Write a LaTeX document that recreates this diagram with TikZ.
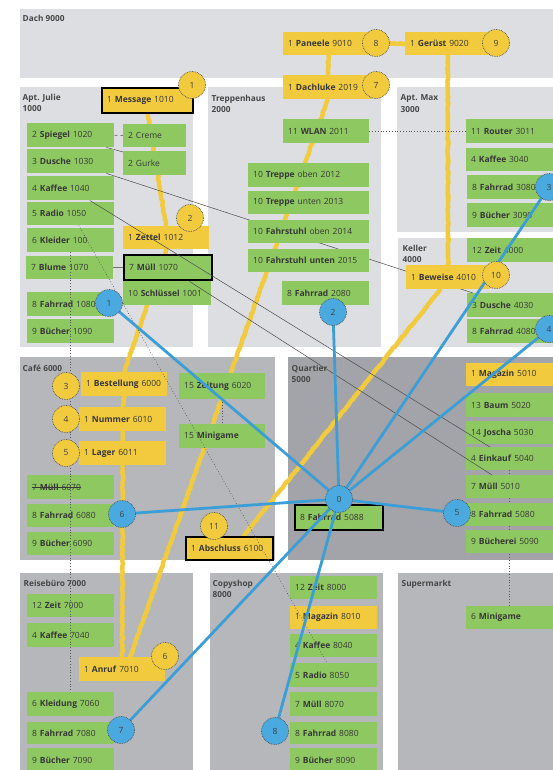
\documentclass[tikz,border=0pt]{standalone}
\usepackage{fontspec}
\setmainfont{Open Sans}
\usetikzlibrary{calc,decorations.pathmorphing}
\definecolor{regL}{HTML}{DDDEE1}
\definecolor{regM}{HTML}{B6B7BB}
\definecolor{regQ}{HTML}{A3A4A9}
\definecolor{grn}{HTML}{8EC860}
\definecolor{yel}{HTML}{F1CA3D}
\definecolor{blu}{HTML}{4AAADF}
\definecolor{bluL}{HTML}{3C9ED6}
\definecolor{txt}{HTML}{3A3A3A}
\pgfdeclarelayer{bg}\pgfdeclarelayer{lines}\pgfdeclarelayer{fg}\pgfdeclarelayer{top}
\pgfsetlayers{bg,lines,main,fg,top}
\newcommand\mybox[7]{%
  \pgfmathsetmacro\myBW{#4-#2-10}\pgfmathsetmacro\myBH{#5-#3}%
  \node[boxbase,#6,minimum height=\myBH pt,text width=\myBW pt,anchor=north west] (#1) at (#2,#3) {#7};}
\newcommand\myStrike[1]{\setbox0\hbox{#1}\rlap{\rule[0.3em]{\wd0}{0.6pt}}\box0}
\begin{document}
\pgfmathsetseed{7}
\begin{tikzpicture}[x=1pt,y=-1pt,
  boxbase/.style={inner xsep=5pt,inner ysep=0pt,align=left,text=black!78,font=\fontsize{8.5}{10}\selectfont},
  g/.style={fill=grn},
  yb/.style={fill=yel},
  thick box/.style={draw=black,line width=2.4pt},
  reglabel/.style={anchor=north west,inner sep=2pt,align=left,text=black!72,font=\fontsize{8.3}{11.5}\selectfont\bfseries},
  ycirc/.style={circle,fill=yel,draw=black!70,densely dotted,line width=0.7pt,minimum size=27pt,inner sep=0pt,text=black!75,font=\fontsize{8.5}{10}\selectfont},
  bcirc/.style={circle,fill=blu,draw=black!70,densely dotted,line width=0.7pt,minimum size=27pt,inner sep=0pt,text=black!75,font=\fontsize{8.5}{10}\selectfont},
  crayon/.style={draw=yel,line width=4.4pt,line cap=round,line join=round,decorate,decoration={random steps,segment length=1.5pt,amplitude=0.6pt}},
  blueline/.style={draw=bluL,line width=2.8pt},
  thinln/.style={draw=black!70,line width=0.5pt},
  dotln/.style={draw=black!65,line width=0.8pt,dotted},
]
\useasboundingbox (0,0) rectangle (553,770);
% ---------- regions ----------
\begin{pgfonlayer}{bg}
\fill[white] (0,0) rectangle (553,770);
\fill[regL] (20,9) rectangle (553,78);
\fill[regL] (20,87) rectangle (193,347);
\fill[regL] (208,87) rectangle (381,347);
\fill[regL] (397,87) rectangle (553,232);
\fill[regL] (398,238) rectangle (553,347);
\fill[regM] (20,357) rectangle (275,560);
\fill[regQ] (288,357) rectangle (553,560);
\fill[regM] (20,573) rectangle (193,770);
\fill[regM] (210,573) rectangle (383,770);
\fill[regM] (398,573) rectangle (553,770);
\end{pgfonlayer}
\node[reglabel] (lDach) at (20.5,12.5) {Dach 9000};
\node[reglabel] (lJul) at (20.5,91.5) {Apt. Julie\\1000};
\node[reglabel] (lTre) at (209.5,92.5) {Treppenhaus\\2000};
\node[reglabel] (lMax) at (398.5,92.5) {Apt. Max\\3000};
\node[reglabel] (lKel) at (400.5,242.5) {Keller\\4000};
\node[reglabel] (lCaf) at (20.5,362.5) {Café 6000};
\node[reglabel] (lQua) at (289.5,362.5) {Quartier\\5000};
\node[reglabel] (lRei) at (21.5,577.5) {Reisebüro 7000};
\node[reglabel] (lCop) at (210.5,577.5) {Copyshop\\8000};
\node[reglabel] (lSup) at (399.5,577.5) {Supermarkt};
% ---------- boxes: Apt. Julie ----------
\mybox{msg}{101}{87}{192}{112}{yb,thick box}{1 \textbf{Message} 1010}
\mybox{spi}{27}{123}{114}{147}{g}{2 \textbf{Spiegel} 1020}
\mybox{cre}{123}{124}{186}{147}{g}{2 Creme}
\mybox{dus}{27}{149}{114}{173}{g}{3 \textbf{Dusche} 1030}
\mybox{gur}{123}{151}{186}{175}{g}{2 Gurke}
\mybox{kaf}{27}{176}{114}{200}{g}{4 \textbf{Kaffee} 1040}
\mybox{rad}{27}{202}{114}{225}{g}{5 \textbf{Radio} 1050}
\mybox{kle}{27}{228}{114}{252}{g}{6 \textbf{Kleider} 100}
\mybox{blu}{26}{256}{113}{279}{g}{7 \textbf{Blume} 1070}
\mybox{fa1}{27}{292}{114}{316}{g}{8 \textbf{Fahrrad} 1080}
\mybox{bu1}{27}{319}{114}{343}{g}{9 \textbf{Bücher} 1090}
\mybox{zet}{123}{226}{209}{249}{yb}{1 \textbf{Zettel} 1012}
\mybox{mul}{123}{254}{211}{279}{g,thick box}{7 \textbf{Müll} 1070}
\mybox{sch}{123}{281}{211}{305}{g}{10 \textbf{Schlüssel} 1001}
% ---------- Dach / Treppenhaus ----------
\mybox{pan}{283}{32}{374}{55}{yb}{1 \textbf{Paneele} 9010}
\mybox{ger}{405}{32}{490}{55}{yb}{1 \textbf{Gerüst} 9020}
\mybox{dal}{283}{75}{372}{99}{yb}{1 \textbf{Dachluke} 2019}
\mybox{wlan}{283}{119}{369}{143}{g}{11 \textbf{WLAN} 2011}
\mybox{tro}{248}{163}{369}{187}{g}{10 \textbf{Treppe} oben 2012}
\mybox{tru}{248}{191}{369}{214}{g}{10 \textbf{Treppe} unten 2013}
\mybox{fso}{248}{220}{369}{243}{g}{10 \textbf{Fahrstuhl} oben 2014}
\mybox{fsu}{248}{249}{369}{272}{g}{10 \textbf{Fahrstuhl unten} 2015}
\mybox{fa2}{282}{281}{369}{305}{g}{8 \textbf{Fahrrad} 2080}
% ---------- Apt. Max / Keller ----------
\mybox{rou}{466}{119}{553}{143}{g}{11 \textbf{Router} 3011}
\mybox{kf3}{466}{148}{553}{171}{g}{4 \textbf{Kaffee} 3040}
\mybox{fa3}{467}{175}{553}{199}{g}{8 \textbf{Fahrrad} 3080}
\mybox{bu3}{467}{203}{553}{227}{g}{9 \textbf{Bücher} 3090}
\mybox{zt4}{467}{238}{553}{262}{g}{12 \textbf{Zeit} 4000}
\mybox{bew}{406}{265}{490}{289}{yb}{1 \textbf{Beweise} 4010}
\mybox{du4}{467}{293}{553}{317}{g}{3 \textbf{Dusche} 4030}
\mybox{fa4}{467}{319}{553}{343}{g}{8 \textbf{Fahrrad} 4080}
% ---------- Café ----------
\mybox{bes}{81}{372}{167}{396}{yb}{1 \textbf{Bestellung} 6000}
\mybox{num}{79}{407}{166}{431}{yb}{1 \textbf{Nummer} 6010}
\mybox{lag}{79}{441}{166}{465}{yb}{1 \textbf{Lager} 6011}
\mybox{ztg}{179}{373}{265}{399}{g}{15 \textbf{Zeitung} 6020}
\mybox{mig}{179}{424}{265}{448}{g}{15 \textbf{Minigame}}
\mybox{mu6}{27}{475}{114}{499}{g}{\myStrike{7 \textbf{Müll} 6070}}
\mybox{fa6}{27}{504}{114}{527}{g}{8 \textbf{Fahrrad} 6080}
\mybox{bu6}{27}{532}{114}{555}{g}{9 \textbf{Bücher} 6090}
\mybox{abs}{185}{536}{272}{559}{yb,thick box}{1 \textbf{Abschluss} 6100}
% ---------- Quartier ----------
\mybox{mag}{466}{363}{553}{386}{yb}{1 \textbf{Magazin} 5010}
\mybox{bau}{466}{393}{553}{417}{g}{13 \textbf{Baum} 5020}
\mybox{jos}{466}{421}{553}{444}{g}{14 \textbf{Joscha} 5030}
\mybox{ein}{466}{447}{553}{470}{g}{4 \textbf{Einkauf} 5040}
\mybox{mu5}{466}{475}{553}{498}{g}{7 \textbf{Müll} 5010}
\mybox{fa5}{466}{503}{553}{526}{g}{8 \textbf{Fahrrad} 5080}
\mybox{bu5}{466}{530}{553}{553}{g}{9 \textbf{Bücherei} 5090}
\mybox{f88}{294}{504}{382}{529}{g,thick box}{8 \textbf{Fahrrad} 5088}
% ---------- Reisebüro ----------
\mybox{zt7}{27}{594}{114}{617}{g}{12 \textbf{Zeit} 7000}
\mybox{kf7}{27}{623}{114}{647}{g}{4 \textbf{Kaffee} 7040}
\mybox{anr}{79}{657}{165}{681}{yb}{1 \textbf{Anruf} 7010}
\mybox{kl7}{27}{692}{114}{716}{g}{6 \textbf{Kleidung} 7060}
\mybox{fa7}{27}{722}{114}{744}{g}{8 \textbf{Fahrrad} 7080}
\mybox{bu7}{27}{748}{114}{772}{g}{9 \textbf{Bücher} 7090}
% ---------- Copyshop ----------
\mybox{zt8}{290}{576}{377}{599}{g}{12 \textbf{Zeit} 8000}
\mybox{mg8}{290}{606}{377}{629}{yb}{1 \textbf{Magazin} 8010}
\mybox{kf8}{290}{634}{377}{657}{g}{4 \textbf{Kaffee} 8040}
\mybox{rd8}{290}{663}{377}{687}{g}{5 \textbf{Radio} 8050}
\mybox{mu8}{290}{692}{377}{716}{g}{7 \textbf{Müll} 8070}
\mybox{fa8}{290}{722}{377}{744}{g}{8 \textbf{Fahrrad} 8080}
\mybox{bu8}{290}{748}{377}{772}{g}{9 \textbf{Bücher} 8090}
% ---------- Supermarkt ----------
\mybox{smg}{466}{606}{553}{629}{g}{6 \textbf{Minigame}}
% ---------- circles ----------
\begin{pgfonlayer}{top}
\node[ycirc] (y1) at (192,85) {1};
\node[ycirc] (y2) at (190,218) {2};
\node[ycirc] (y3) at (66,386) {3};
\node[ycirc] (y4) at (66,419) {4};
\node[ycirc] (y5) at (66,453) {5};
\node[ycirc] (y6) at (165,656) {6};
\node[ycirc] (y7) at (376,85) {7};
\node[ycirc] (y8) at (376,43) {8};
\node[ycirc] (y9) at (496,43) {9};
\node[ycirc] (y10) at (496,275) {10};
\node[ycirc] (y11) at (214,526) {11};
\node[bcirc] (b0) at (339,499) {0};
\node[bcirc] (b1) at (109,303) {1};
\node[bcirc] (b2) at (333,312) {2};
\node[bcirc] (b3) at (549,187) {3};
\node[bcirc] (b4) at (549,329) {4};
\node[bcirc] (b5) at (457,513) {5};
\node[bcirc] (b6) at (122,514) {6};
\node[bcirc] (b7) at (121,730) {7};
\node[bcirc] (b8) at (275,731) {8};
\end{pgfonlayer}
% ---------- yellow story path ----------
\begin{pgfonlayer}{lines}
\draw[crayon] (msg.south) -- (zet.north);
\draw[crayon] (zet.south) -- (bes.north);
\draw[crayon] (bes.south) -- (num.north);
\draw[crayon] (num.south) -- (lag.north);
\draw[crayon] (lag.south) -- (anr.north);
\draw[crayon] ($(anr.north)+(8,0)$) -- (dal.south);
\draw[crayon] (dal.north) -- (pan.south);
\draw[crayon] (pan.east) -- (ger.west);
\draw[crayon] (ger.south) -- (bew.north);
\draw[crayon] ($(bew.south)+(-8,0)$) -- ($(abs.north)+(14,0)$);
% thin relations under boxes
\draw[thinln,dashed] (spi.east) -- (cre.west);
\draw[thinln] ($(spi.south east)+(-8,0)$) -- ($(gur.north west)+(0,1)$);
\draw[thinln] ($(dus.south east)+(-8,0)$) -- ($(du4.north west)+(6,0)$);
\draw[thinln,draw=black!55] (blu.east) -- (mul.west);
\draw[dotln] (wlan.east) -- (rou.west);
\draw[dotln] (ztg.south) -- (mig.north);
\draw[dotln] (ein.south) -- (smg.north);
\end{pgfonlayer}
% ---------- relations over boxes & blue network ----------
\begin{pgfonlayer}{fg}
\draw[thinln] ($(kaf.south)+(19,0)$) -- ($(ein.north west)+(24,0)$);
\draw[thinln] ($(mul.south east)+(-24,0)$) -- ($(mu5.north west)+(26,0)$);
\draw[dotln,line width=0.6pt] ($(rad.south)+(8,0)$) -- ($(rd8.north west)+(37,0)$);
\draw[dotln] (kle.south) -- (kl7.north);
\foreach \t in {b1,b2,b3,b4,b5,b6,b7,b8}
  \draw[blueline] (b0.center) -- (\t.center);
\end{pgfonlayer}
\end{tikzpicture}
\end{document}
